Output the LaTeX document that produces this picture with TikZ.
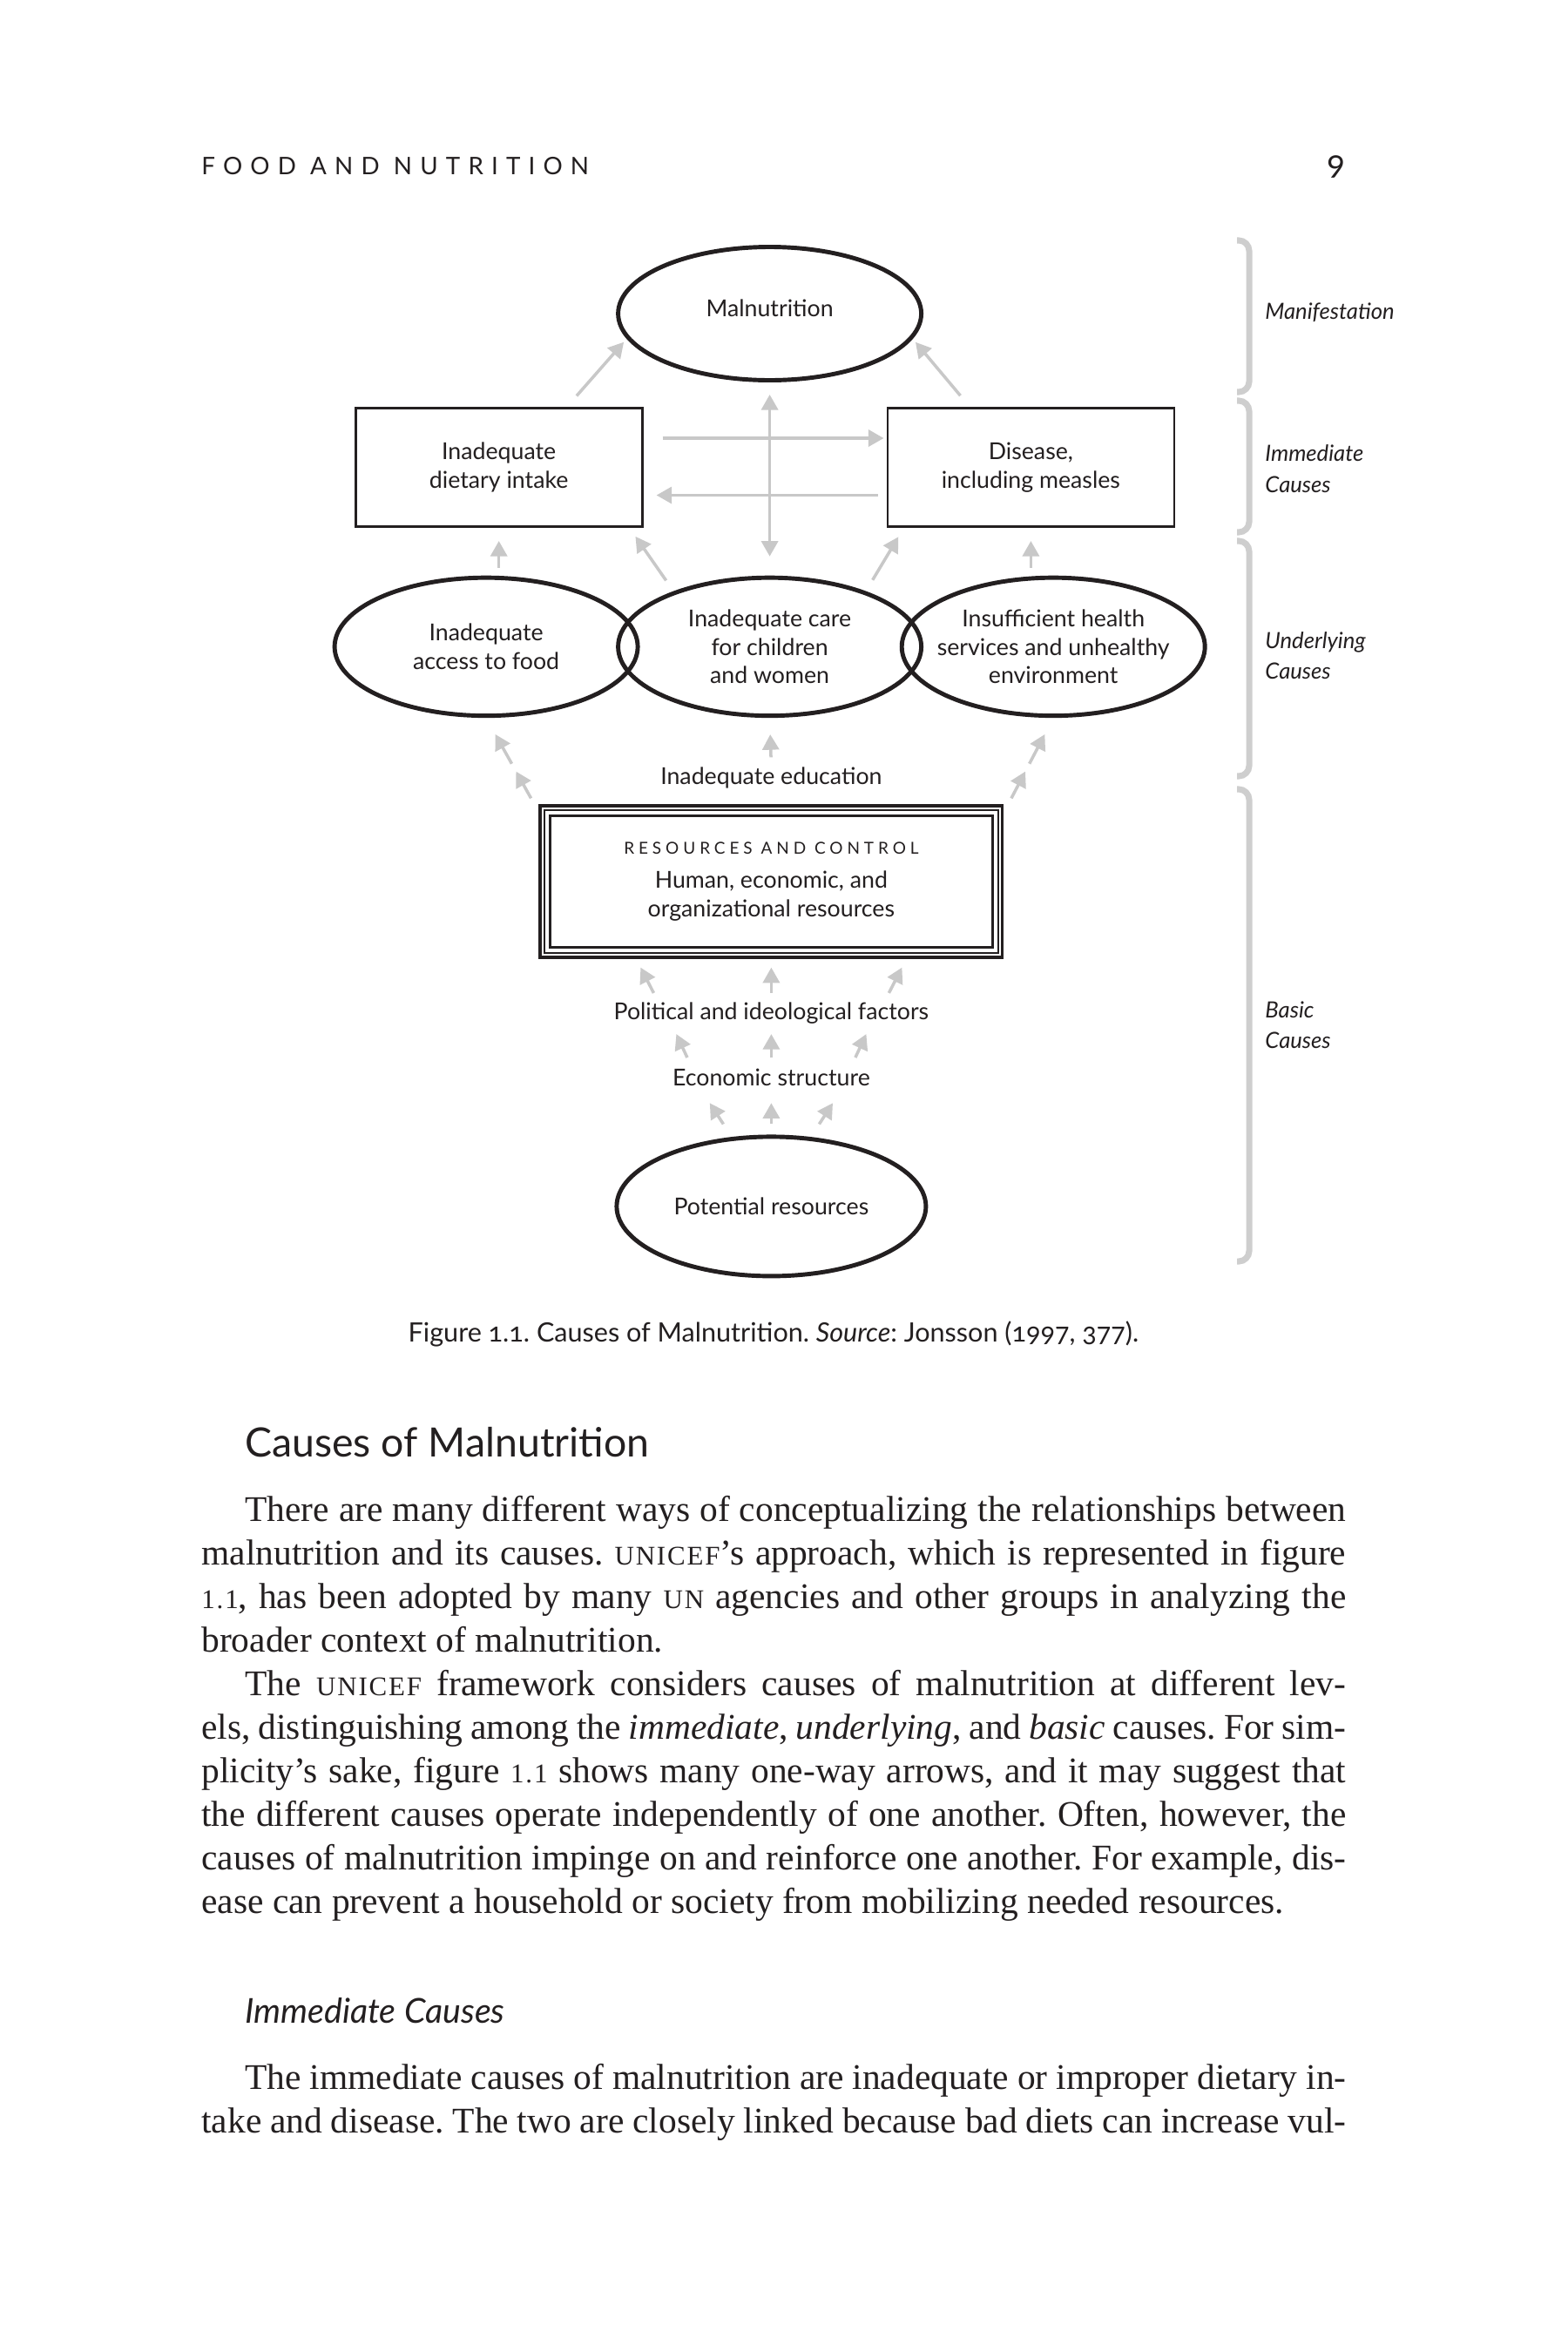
\documentclass[tikz,border=0pt]{standalone}
\usepackage{fontspec}
\setmainfont{Liberation Serif}
\newfontfamily\lato{Lato}
\newfontfamily\latoold{Lato}[Numbers=OldStyle]
\newfontfamily\latowide{Lato}[LetterSpace=33]
\newfontfamily\latocaps{Lato}[LetterSpace=26]
\usetikzlibrary{arrows.meta, positioning, calc, shapes.geometric}

\definecolor{ink}{RGB}{35,31,32}
\definecolor{arrowgray}{RGB}{200,200,200}
\definecolor{bracegray}{RGB}{206,206,206}

\newcommand{\dfont}{\lato\fontsize{15.2}{18.6}\selectfont}
\newcommand{\smc}[1]{{\fontsize{17.6}{20}\selectfont\addfontfeature{LetterSpace=6}#1}}
\frenchspacing

\begin{document}
\begin{tikzpicture}[
    x=2cm, y=2cm,
    % Node styles
    outcome/.style={
        ellipse, draw=ink, line width=2.8pt,
        minimum width=6.96cm, minimum height=3.06cm,
        inner xsep=-1cm, inner ysep=0pt,
        align=center, font=\dfont, text=ink,
    },
    underlying/.style={
        outcome, minimum height=3.17cm,
    },
    immediate/.style={
        rectangle, draw=ink, line width=1.6pt,
        minimum width=6.58cm, minimum height=2.72cm,
        align=center, font=\dfont, text=ink,
    },
    basicbox/.style={
        rectangle, draw=ink, line width=1.9pt,
        minimum width=10.61cm, minimum height=3.48cm,
        align=center, font=\dfont, text=ink,
    },
    level/.style={
        font=\dfont, text=ink, inner sep=0pt,
        text height=11pt, text depth=3.2pt, anchor=base,
    },
    side/.style={
        font=\lato\itshape\fontsize{14.6}{20.2}\selectfont, text=ink,
        align=left, anchor=west, inner sep=0pt,
    },
    bracket/.style={
        draw=bracegray, line width=4pt, rounded corners=0.24cm,
    },
    body/.style={
        font=\fontsize{23.6}{26}\selectfont, text=ink,
        anchor=base west, inner sep=0pt,
    },
    arr/.style={
        draw=arrowgray, line width=2pt, -{Triangle[length=10pt, width=10.8pt]},
    },
    darr/.style={
        arr, {Triangle[length=10pt, width=10.8pt]}-{Triangle[length=10pt, width=10.8pt]},
    },
]

\path[use as bounding box, fill=white] (0,0) rectangle (18,-27);

% === Running head ===
\node[anchor=base west, inner sep=0pt, text=ink] (runhead) at (2.31,-2.0)
    {\latowide\fontsize{15.8}{18}\selectfont FOOD AND NUTRITION};
\node[anchor=base east, inner sep=0pt, text=ink] (folio) at (15.45,-2.0)
    {\latoold\fontsize{22}{24}\selectfont 9};

% === Manifestation ===
\node[outcome, text height=12pt, text depth=8pt] (mal) at (8.836,-3.60) {Malnutrition};

% === Immediate causes ===
\node[immediate] (diet) at (5.727,-5.366) {Inadequate\\dietary intake};
\node[immediate] (dis)  at (11.834,-5.366) {Disease,\\including measles};

% === Underlying causes ===
\node[underlying] (food)   at (5.581,-7.424)  {Inadequate\\access to food};
\node[underlying] (care)   at (8.836,-7.424)  {Inadequate care\\for children\\and women};
\node[underlying] (health) at (12.092,-7.424) {Insufficient health\\services and unhealthy\\environment};

% === Basic causes ===
\node[level] (educ) at (8.854,-9.0) {Inadequate education};
\node[basicbox] (res) at (8.854,-10.12)
    {{\latocaps\fontsize{10.8}{18.6}\selectfont RESOURCES AND CONTROL}\\[3.6pt]
     Human, economic, and\\organizational resources};
\draw[ink, line width=1pt]   ([shift={(0.065,-0.065)}]res.north west) rectangle ([shift={(-0.065,0.065)}]res.south east);
\draw[ink, line width=1.9pt] ([shift={(0.13,-0.13)}]res.north west) rectangle ([shift={(-0.13,0.13)}]res.south east);
\node[level] (polit) at (8.854,-11.706) {Political and ideological factors};
\node[level] (econ)  at (8.854,-12.467) {Economic structure};
\node[outcome, minimum width=7.1cm, minimum height=3.2cm] (pot) at (8.854,-13.849) {Potential resources};

% === Edges: immediate to manifestation ===
\draw[arr, shorten <=0.34cm, shorten >=0.1cm] ([xshift=1.56cm]diet.north) -- (mal.190);
\draw[arr, shorten <=0.34cm, shorten >=0.1cm] ([xshift=-1.4cm]dis.north) -- (mal.350);
\draw[darr, shorten <=0.28cm, shorten >=0.44cm] (mal.south) -- (care.north);
\draw[arr, shorten <=0.44cm, shorten >=0.06cm] ([yshift=0.672cm]diet.east) -- ([yshift=0.672cm]dis.west);
\draw[arr, shorten <=0.2cm, shorten >=0.3cm] ([yshift=-0.638cm]dis.west) -- ([yshift=-0.638cm]diet.east);

% === Edges: underlying to immediate ===
\draw[arr, shorten <=0.18cm, shorten >=0.3cm] (diet.south |- food.north) -- (diet.south);
\draw[arr, shorten <=0.3cm, shorten >=0.24cm] (care.150) -- ([xshift=-0.32cm]diet.south east);
\draw[arr, shorten <=0.3cm, shorten >=0.24cm] (care.30) -- ([xshift=0.4cm]dis.south west);
\draw[arr, shorten <=0.18cm, shorten >=0.3cm] (dis.south |- health.north) -- (dis.south);

% === Edges: basic to underlying ===
\draw[arr, shorten <=0.22cm, shorten >=0.38cm] (educ.north) -- (care.south);
\foreach \s/\e in {0.07/0.38, 0.47/0.81} {
    \draw[arr] ($([xshift=-0.1cm]res.north west)!\s!(food.south)$)
        -- ($([xshift=-0.1cm]res.north west)!\e!(food.south)$);
    \draw[arr] ($([xshift=0.1cm]res.north east)!\s!(health.south)$)
        -- ($([xshift=0.1cm]res.north east)!\e!(health.south)$);
}

% === Edges: within basic causes ===
\foreach \t/\h in {-2.7/-3, 0/0, 2.7/3}
    \draw[arr] ([xshift=\t cm, yshift=0.22cm]polit.north) -- ([xshift=\h cm, yshift=-0.2cm]res.south);
\foreach \t/\h in {-1.93/-2.18, 0/0, 1.93/2.18}
    \draw[arr] ([xshift=\t cm, yshift=0.26cm]econ.north) -- ([xshift=\h cm, yshift=-0.21cm]polit.south);
\foreach \t/\h in {-1.1/-1.412, 0/0, 1.1/1.412}
    \draw[arr] ([xshift=\t cm, yshift=0.24cm]pot.north) -- ([xshift=\h cm, yshift=-0.272cm]econ.south);

% === Level brackets ===
\node[side] (lman) at (14.52,-3.583) {Manifestation};
\node[side] (limm) at (14.52,-5.383) {Immediate\\Causes};
\node[side] (lund) at (14.52,-7.527) {Underlying\\Causes};
\node[side] (lbas) at (14.52,-11.765) {Basic\\Causes};
\draw[bracket] (14.20,-2.76) -| (14.34,-3.6)  |- (14.20,-4.50);
\draw[bracket] (14.20,-4.60) -| (14.34,-5.4)  |- (14.20,-6.11);
\draw[bracket] (14.20,-6.21) -| (14.34,-7.5)  |- (14.20,-8.91);
\draw[bracket] (14.20,-9.06) -| (14.34,-11.7) |- (14.20,-14.48);

% === Caption and text ===
\node[anchor=base, inner sep=0pt, text=ink] (cap) at (8.88,-15.40)
    {\latoold\fontsize{17.4}{20}\selectfont Figure 1.1. Causes of Malnutrition. \textit{Source}: Jonsson (1997, 377).};
\node[anchor=base west, inner sep=0pt, text=ink] (sec) at (2.81,-16.72)
    {\lato\fontsize{26.4}{30}\selectfont Causes of Malnutrition};

\node[body] (l1)  at (2.81,-17.46) {\makebox[25.28cm][s]{There are many different ways of conceptualizing the relationships between}};
\node[body] (l2)  at (2.31,-17.96) {\makebox[26.28cm][s]{malnutrition and its causes. \smc{UNICEF}’s approach, which is represented in figure}};
\node[body] (l3)  at (2.31,-18.46) {\makebox[26.28cm][s]{\smc{1.1}, has been adopted by many \smc{UN} agencies and other groups in analyzing the}};
\node[body] (l4)  at (2.31,-18.96) {broader context of malnutrition.};
\node[body] (l5)  at (2.81,-19.46) {\makebox[25.28cm][s]{The \smc{UNICEF} framework considers causes of malnutrition at different lev-}};
\node[body] (l6)  at (2.31,-19.96) {\makebox[26.28cm][s]{els, distinguishing among the \textit{immediate}, \textit{underlying}, and \textit{basic} causes. For sim-}};
\node[body] (l7)  at (2.31,-20.46) {\makebox[26.28cm][s]{plicity’s sake, figure \smc{1.1} shows many one-way arrows, and it may suggest that}};
\node[body] (l8)  at (2.31,-20.96) {\makebox[26.28cm][s]{the different causes operate independently of one another. Often, however, the}};
\node[body] (l9)  at (2.31,-21.46) {\makebox[26.28cm][s]{causes of malnutrition impinge on and reinforce one another. For example, dis-}};
\node[body] (l10) at (2.31,-21.96) {ease can prevent a household or society from mobilizing needed resources.};

\node[anchor=base west, inner sep=0pt, text=ink] (subsec) at (2.81,-23.22)
    {\lato\itshape\fontsize{22.4}{26}\selectfont Immediate Causes};

\node[body] (l11) at (2.81,-23.98) {\makebox[25.28cm][s]{The immediate causes of malnutrition are inadequate or improper dietary in-}};
\node[body] (l12) at (2.31,-24.48) {\makebox[26.28cm][s]{take and disease. The two are closely linked because bad diets can increase vul-}};

\end{tikzpicture}
\end{document}
